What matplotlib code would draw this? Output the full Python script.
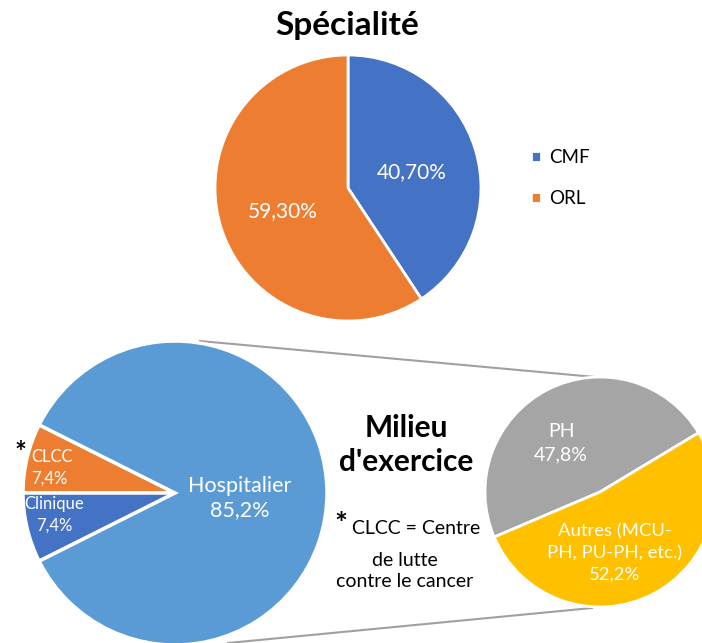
import matplotlib
matplotlib.use("Agg")
import matplotlib.pyplot as plt

plt.rcParams['font.family'] = ['Lato', 'DejaVu Sans']

# Spécialité
spec_labels = ['CMF', 'ORL']
spec_values = [40.70, 59.30]
spec_text = ['40,70%', '59,30%']
spec_colors = ['#4472C4', '#ED7D31']

# Milieu d'exercice (pie principal)
milieu_labels = ['CLCC', 'Clinique', 'Hospitalier']
milieu_values = [7.4, 7.4, 85.2]
milieu_text = ['CLCC\n7,4%', 'Clinique\n7,4%', 'Hospitalier\n85,2%']
milieu_colors = ['#ED7D31', '#4472C4', '#5B9BD5']

# Détail hospitalier
hosp_labels = ['PH', 'Autres (MCU-\nPH, PU-PH, etc.)']
hosp_values = [47.8, 52.2]
hosp_text = ['PH\n47,8%', 'Autres (MCU-\nPH, PU-PH, etc.)\n52,2%']
hosp_colors = ['#A5A5A5', '#FFC000']

W, H = 702, 643
fig = plt.figure(figsize=(W / 100, H / 100), dpi=100)
ax = fig.add_axes([0, 0, 1, 1])

def Y(y):
    return H - y

# pie du haut
w1, _ = ax.pie(spec_values, colors=spec_colors, startangle=90, counterclock=False,
               center=(348, Y(188)), radius=133, frame=True,
               wedgeprops=dict(edgecolor='white', linewidth=2))
ax.text(412, Y(172), spec_text[0], color='white', fontsize=15, ha='center', va='center')
ax.text(283, Y(211), spec_text[1], color='white', fontsize=15, ha='center', va='center')
ax.text(347, Y(26), 'Spécialité', fontsize=24, fontweight='bold', ha='center', va='center')
ax.legend(w1, spec_labels, loc='center left', bbox_to_anchor=(514, Y(178)),
          bbox_transform=ax.transData, frameon=False, fontsize=13.5,
          handlelength=0.55, handleheight=0.55, handletextpad=0.45, labelspacing=1.3)

# connecteurs
ax.plot([200, 595], [Y(341), Y(377)], color='#A0A0A0', lw=1.5, zorder=0)
ax.plot([228, 592], [Y(643), Y(608)], color='#A0A0A0', lw=1.5, zorder=0)

# pie de gauche
ax.pie(milieu_values, colors=milieu_colors, startangle=153.36, counterclock=True,
       center=(175, Y(493)), radius=152, frame=True,
       wedgeprops=dict(edgecolor='white', linewidth=2.5))
ax.text(31, Y(468), milieu_text[0], color='white', fontsize=12, ha='left', va='center',
        linespacing=1.45)
ax.text(54, Y(515), milieu_text[1], color='white', fontsize=12, ha='center', va='center',
        linespacing=1.45)
ax.text(240, Y(498), milieu_text[2], color='white', fontsize=15.5, ha='center', va='center',
        linespacing=1.3)
ax.text(20, Y(453), '*', fontsize=20, fontweight='bold', ha='center', va='center')

# pie de droite
ax.pie(hosp_values, colors=hosp_colors, startangle=31, counterclock=True,
       center=(600, Y(492)), radius=115, frame=True,
       wedgeprops=dict(edgecolor='white', linewidth=2))
ax.text(561, Y(443), hosp_text[0], color='white', fontsize=14, ha='center', va='center',
        linespacing=1.45)
ax.text(615, Y(553), hosp_text[1], color='white', fontsize=13.3, ha='center', va='center',
        linespacing=1.45)

ax.set_xlim(0, W)
ax.set_ylim(0, H)
ax.set_aspect('equal')
ax.axis('off')

# textes du centre
ax.text(406, Y(445), "Milieu\nd'exercice", fontsize=21.5, fontweight='bold', ha='center',
        va='center', linespacing=1.3)
ax.text(341, Y(525), '*', fontsize=22, fontweight='bold', ha='center', va='center')
ax.text(416, Y(529), 'CLCC = Centre', fontsize=14, ha='center', va='center')
ax.text(405, Y(571), 'de lutte\ncontre le cancer', fontsize=14, ha='center', va='center',
        linespacing=1.35)

fig.savefig('out.png', dpi=100)
